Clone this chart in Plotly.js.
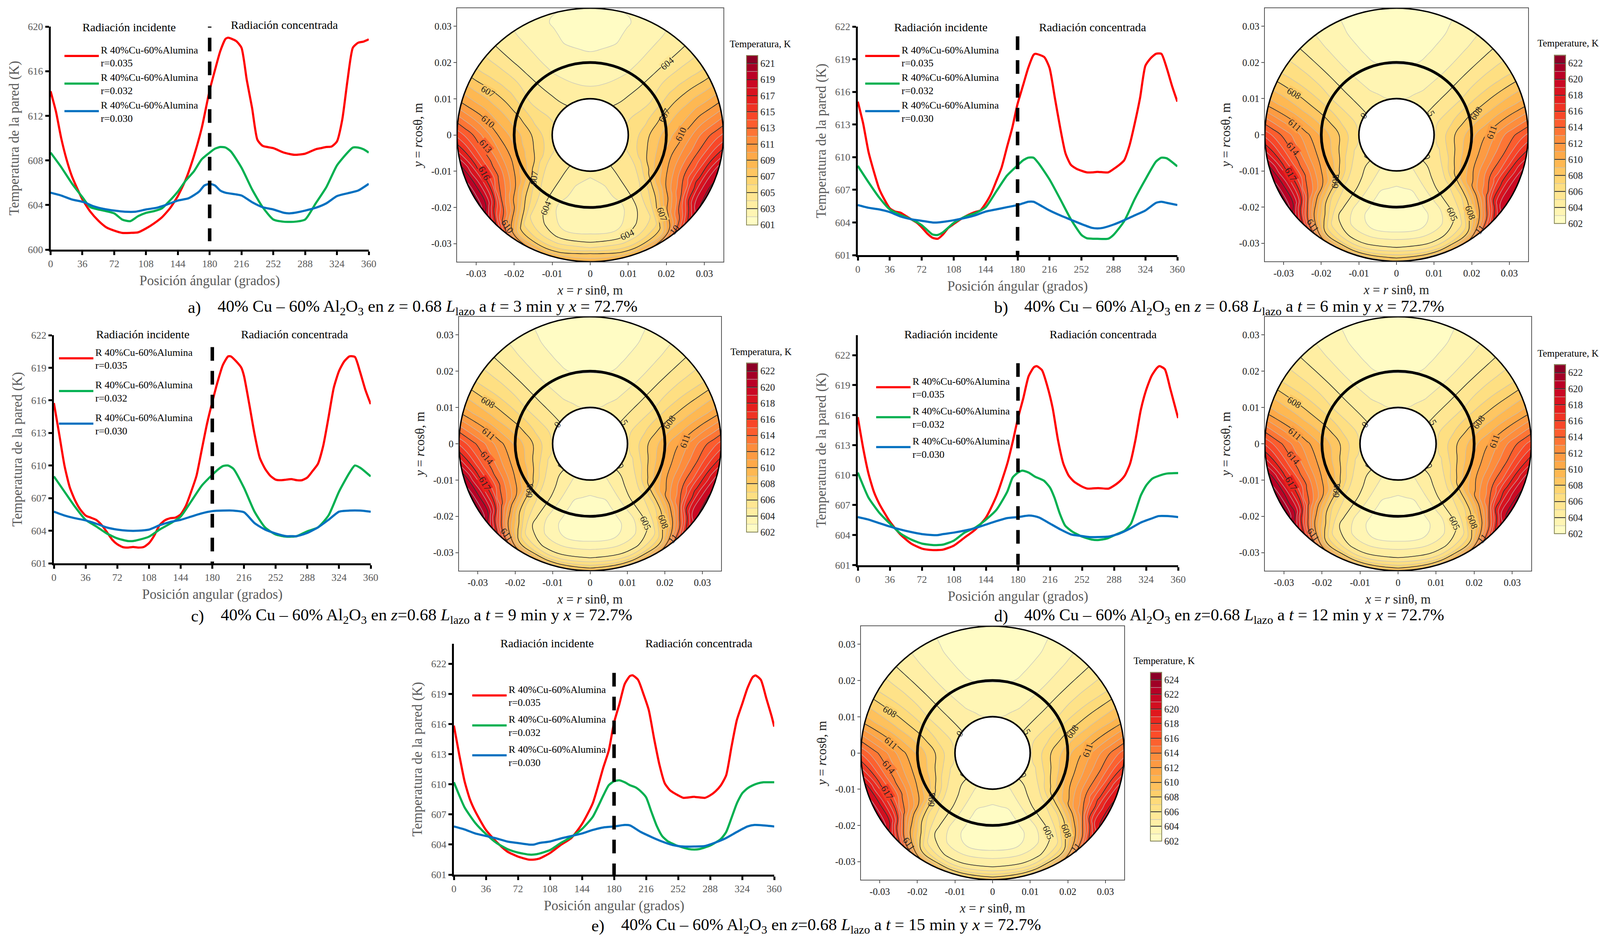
<!DOCTYPE html>
<html><head><meta charset="utf-8">
<script src="https://cdn.plot.ly/plotly-3.0.1.min.js"></script>
<style>html,body{margin:0;padding:0;background:#fff}</style></head>
<body><div id="chart" style="width:4102px;height:2414px"></div>
<script>
const xA_r=[0,6,12,18,24,30,36,45,54,63,72,81,90,99,108,117,126,135,144,153,162,171,180,186,192,198,201,210,216,222,228,234,240,252,264,276,288,300,306,312,318,324,330,336,342,348,354,360];
const yA_r=[614.2,612.4,610,608.1,606.6,605.5,604.5,603.4,602.6,602,601.7,601.5,601.5,601.55,601.9,602.35,602.9,603.7,604.8,606.3,608.35,610.9,614.3,616.1,617.8,618.9,619,618.7,618.1,615.2,612.7,609.85,609.3,609.1,608.7,608.5,608.6,609,609.1,609.2,609.25,609.7,611.65,615.2,618.1,618.55,618.65,618.85];
const xA_g=[0,12,24,36,45,54,72,81,90,99,108,117,126,135,144,153,162,171,180,186,192,198,204,216,228,240,252,264,276,288,300,312,324,336,342,348,354,360];
const yA_g=[608.7,607.4,605.95,604.7,603.8,603.6,603.25,602.7,602.55,603,603.3,603.45,603.7,604.4,605.2,606.2,607,608.1,608.7,609.05,609.2,609.15,608.8,607.35,605.4,603.8,602.7,602.5,602.5,602.7,604.15,605.6,607.55,608.7,609.15,609.15,609,608.7];
const xA_b=[0,12,24,38,48,60,72,84,96,108,120,132,144,156,168,174,180,186,192,198,216,228,240,252,264,270,276,288,300,312,324,336,348,360];
const yA_b=[605.1,604.85,604.5,604.25,603.9,603.65,603.5,603.4,603.4,603.6,603.75,604.05,604.4,604.6,605.2,605.75,605.9,605.75,605.3,605.1,604.85,604.25,603.8,603.6,603.3,603.25,603.3,603.5,603.75,604.15,604.8,605.05,605.3,605.9];
const xB_r=[0,6,12,18,24,30,36,42,48,54,60,66,72,78,84,90,96,102,108,114,120,126,132,138,144,150,156,162,168,174,180,186,192,198,200,210,216,222,228,234,240,246,252,258,264,270,282,288,294,300,306,312,318,324,330,336,342,348,354,360];
const yB_r=[615.1,613.1,610.5,608.7,607.1,606.1,605.3,605,604.9,604.6,604.3,604,603.55,603,602.6,602.5,602.9,603.5,603.85,604.2,604.5,604.75,604.95,605.1,605.75,606.6,607.8,609.05,610.9,612.7,614.9,616.55,618.2,619.4,619.5,619.2,618.2,615.45,612.7,610.35,609.3,608.95,608.75,608.6,608.6,608.65,608.6,608.9,609.25,609.7,611.05,613.1,615.45,618.4,619.1,619.5,619.5,618.2,616.55,615.1];
const xB_g=[0,12,24,36,48,60,72,84,90,96,108,120,132,144,156,168,180,186,192,198,204,216,228,240,252,258,270,282,288,300,312,324,336,342,348,360];
const yB_g=[609.2,607.7,606.3,605.2,604.7,604.3,603.75,602.9,602.85,603.1,603.95,604.5,604.85,605.4,606.85,608.3,609.25,609.7,609.95,609.95,609.4,607.95,606.15,604.3,602.85,602.55,602.5,602.5,602.85,604.1,606.15,607.95,609.6,609.95,609.9,609.15];
const xB_b=[0,12,24,36,48,60,72,84,90,96,108,120,132,144,156,168,180,186,192,198,204,216,228,240,252,264,270,276,288,300,312,324,336,342,348,360];
const yB_b=[605.6,605.35,605.2,604.95,604.55,604.3,604.15,604,604,604.05,604.2,604.4,604.65,605,605.2,605.4,605.6,605.75,605.9,605.9,605.65,605.1,604.65,604.25,603.85,603.5,603.45,603.5,603.8,604.2,604.65,605.1,605.8,605.9,605.8,605.6];
const xC_r=[0,6,12,18,24,30,36,42,48,54,60,66,72,78,84,90,96,102,108,114,120,126,132,138,144,150,156,162,168,174,180,186,192,198,201,207,213,216,222,228,234,240,246,252,258,264,270,276,282,288,294,300,306,312,318,324,330,336,342,348,354,360];
const yC_r=[615.75,612.9,610,608,606.8,605.95,605.4,605.2,605,604.55,603.9,603.2,602.75,602.5,602.45,602.5,602.45,602.5,602.85,603.55,604.5,604.95,605.15,605.2,605.5,606.3,607.6,609.05,611.45,613.85,615.85,617.7,619.25,620.05,620.05,619.6,619,618.25,615.65,612.9,610.7,609.7,609.05,608.7,608.65,608.7,608.75,608.65,608.65,608.9,609.5,610.15,611.8,614.4,617.15,618.7,619.6,620.05,620,618.6,616.95,615.65];
const xC_g=[0,12,24,36,48,60,72,84,90,96,108,120,132,144,156,168,180,186,192,198,204,216,228,240,252,264,270,276,288,300,312,324,336,342,348,360];
const yC_g=[609,607.6,606.2,605,604.4,603.75,603.3,603.05,603.05,603.15,603.45,604.1,604.65,605.3,606.7,608.15,609.15,609.6,609.95,610,609.7,607.95,605.75,604.3,603.65,603.45,603.45,603.5,603.95,604.3,605.4,607.6,609.35,610,609.8,609];
const xC_b=[0,12,24,36,48,60,72,84,96,108,120,132,144,156,168,180,192,204,216,228,240,252,264,270,276,288,300,312,324,336,348,360];
const yC_b=[605.75,605.4,605.15,604.95,604.65,604.3,604.1,604,604,604.1,604.5,604.8,605,605.3,605.6,605.8,605.85,605.85,605.7,604.7,604.1,603.75,603.5,603.5,603.5,603.8,604.3,605,605.75,605.85,605.85,605.75];
const xD_r=[0,6,12,18,24,36,48,60,72,84,90,96,108,120,132,144,156,168,174,180,186,192,198,201,207,213,219,225,231,237,243,252,258,270,282,288,294,300,306,312,318,324,330,336,339,345,351,357,360];
const yD_r=[615.8,612.7,610.15,608.35,607.15,605.35,604.05,603.15,602.65,602.5,602.5,602.55,602.95,603.75,604.55,605.75,607.95,611.15,613.3,615.7,617.7,619.9,620.8,620.9,620.5,618.9,616.7,613.5,611.15,609.95,609.35,608.85,608.65,608.7,608.65,608.95,609.35,609.95,611.15,613.5,616.5,618.5,619.9,620.7,620.9,620.6,618.7,616.7,615.7];
const xD_g=[0,6,12,24,36,48,60,72,84,90,96,108,120,132,144,156,168,174,180,185,192,199,209,216,221,227,233,241,252,263,270,280,290,300,307,312,318,324,331,339,347,360];
const yD_g=[610.25,608.95,607.75,606.25,605.15,604.15,603.55,603.15,603,603,603.05,603.45,604.25,604.75,605.55,606.55,608.35,609.75,610.25,610.45,610.25,609.85,609.45,608.75,607.75,606.15,604.95,604.35,603.85,603.55,603.5,603.65,604.05,604.45,605.15,606.35,607.95,608.95,609.65,609.95,610.15,610.2];
const xD_b=[0,12,24,36,48,60,72,84,90,96,108,120,132,144,156,168,180,192,198,204,216,228,240,252,260,270,282,294,306,318,330,338,348,360];
const yD_b=[605.8,605.55,605.2,604.85,604.55,604.3,604.1,604,604,604.1,604.25,604.45,604.7,605.05,605.4,605.7,605.8,605.95,605.9,605.75,605.15,604.55,604.05,603.9,603.8,603.8,603.85,604.15,604.65,605.25,605.65,605.9,605.9,605.8];
const xE_r=[0,6,12,18,24,36,48,60,72,84,90,96,108,120,132,144,156,168,174,180,186,192,198,201,207,213,219,225,231,237,243,252,258,270,282,288,294,300,306,312,318,324,330,336,339,345,351,357,360];
const yE_r=[615.85,612.95,610.3,608.5,607.3,605.45,604.25,603.3,602.8,602.5,602.5,602.6,603.15,603.95,604.65,606.05,608.1,611.7,613.35,616.15,618,620,620.8,620.85,620.4,619,617.4,614.55,611.95,610.1,609.4,608.9,608.65,608.75,608.65,608.9,609.3,609.9,610.9,613.75,616.4,618,619.6,620.7,620.85,620.4,618.6,616.8,615.75];
const xE_g=[0,6,12,24,36,48,60,72,84,90,96,108,120,132,144,156,168,174,180,186,192,198,204,210,216,222,228,234,240,252,264,270,276,288,300,306,312,318,324,330,336,342,348,360];
const yE_g=[610.2,608.9,607.7,606.15,605.05,604.15,603.55,603.2,603,603,603.1,603.45,604.15,604.75,605.55,606.75,608.9,609.9,610.3,610.4,610.2,609.9,609.7,609.3,608.7,607.25,605.85,604.85,604.35,603.85,603.55,603.5,603.55,603.9,604.55,605.25,606.65,608.1,609.1,609.6,609.9,610.1,610.2,610.2];
const xE_b=[0,12,24,36,48,60,72,84,90,96,108,120,132,144,156,168,180,192,198,210,222,234,246,258,270,282,294,306,318,330,338,348,360];
const yE_b=[605.8,605.5,605.1,604.85,604.6,604.3,604.15,604,604,604.15,604.3,604.6,604.85,605.1,605.45,605.7,605.8,605.95,605.9,605.25,604.75,604.3,603.95,603.8,603.8,603.85,604.2,604.65,605.25,605.8,605.95,605.9,605.8];

const radii=[0.010,0.012,0.015,0.018,0.021,0.024,0.027,0.029,0.031,0.033,0.035];
const angles=[-180,-165,-155,-145,-135,-125,-115,-105,-90,-75,-60,-45,-30,-15,0,15,30,45,60,75,90,105,115,125,135,145,155,165,180];
const rightAngles=[15,30,45,60,75,90,105,115,125,135,145,155,165,180];
const sideRows=[[603.55,602.95,602.7,602.55,602.45,602.55,602.9,603.6,604.85,607.3,608.6],
[603.5,603.25,602.95,602.75,602.65,602.7,602.95,603.65,604.9,606.5,608.9],
[603.75,603.65,603.5,603.35,603.05,603.15,603.8,604.4,605.3,606.85,609.4],
[604.1,604.1,604.15,604.2,604.35,604.6,604.9,605.4,606.4,607.9,611.3],
[604.25,604.35,604.6,605.03,605.85,607.03,609.03,610.7,612.03,613.3,616.03],
[604.45,604.7,605.2,606.7,608.3,610.03,611.9,613.2,616.3,618.6,620.2],
[604.9,605.3,606.5,607.8,609.3,611.1,613.2,615.03,617.03,618.9,620.4],
[605.35,605.8,606.85,608.1,609.6,611.03,612.9,614.1,615.7,617.6,619.3],
[605.4,605.75,606.85,607.9,608.9,609.9,611.3,612.2,613.1,613.9,614.7],
[605.1,605.5,605.8,606.7,607.4,608.03,608.6,609.03,609.3,609.6,609.95],
[604.6,604.7,604.8,604.95,605.4,605.9,606.1,606.15,606.2,606.2,606.25],
[604.2,604.15,604.1,604.05,604.03,604.02,604.01,603.98,603.96,603.95,603.95],
[603.85,603.6,603.35,603.1,602.95,602.8,602.7,602.65,602.6,602.55,602.55],
[603.55,603.3,602.95,602.65,602.35,602.1,601.95,601.9,601.85,601.8,602.02],
[603.35,603.15,602.85,602.55,602.2,601.9,601.7,601.6,601.55,601.5,602.02]];
const hotA=[[605.35,605.7,606.8,607.8,608.8,609.8,611.1,612.03,612.8,613.5,614.2],
[605.3,605.75,606.8,608.03,609.5,610.9,612.6,613.8,615.2,616.9,618.4],
[604.85,605.25,606.4,607.7,609.2,610.9,612.9,614.5,616.3,618.03,619.3],
[604.4,604.65,605.15,606.6,608.2,609.9,611.7,612.9,615.4,617.6,619.1],
[604.25,604.35,604.55,604.95,605.8,606.9,608.8,610.4,611.7,612.9,615.2]];
const rowsB=[[603.55,603.3,602.9,602.6,602.5,602.6,603.02,604.02,604.85,606.8,609.02],
[603.8,603.55,603.1,602.8,602.65,602.7,603.05,604.02,604.8,606.5,609.4],
[604.03,603.95,603.85,603.7,603.45,603.25,603.75,604.4,605.2,606.9,610.03],
[604.6,604.75,604.85,604.95,604.97,604.98,605.05,605.5,606.4,608.03,611.5],
[605.03,605.05,605.35,605.8,606.3,606.9,608.2,609.7,611.03,613.5,616.8],
[604.95,605.2,606.2,607.7,609.3,611.03,612.9,614.2,617.3,619.6,621.2],
[605.4,605.8,607.03,608.8,610.3,612.1,614.2,616.03,618.03,619.9,621.4],
[605.8,606.3,607.6,609.03,610.6,612.03,613.9,615.1,616.7,618.6,620.3],
[606.03,606.6,607.9,609.03,610.2,611.3,612.6,613.4,614.1,614.9,615.7],
[605.7,606.2,606.8,607.6,608.2,608.7,609.2,609.5,609.8,610.05,610.3],
[605.3,605.45,605.6,605.8,606.1,606.4,606.6,606.7,606.75,606.8,606.8],
[604.6,604.65,604.7,604.7,604.7,604.7,604.7,604.7,604.7,604.7,604.7],
[604.3,604.15,603.95,603.75,603.55,603.4,603.3,603.25,603.2,603.2,603.2],
[604.05,603.85,603.5,603.2,602.95,602.75,602.65,602.6,602.6,602.6,602.6],
[604.03,603.75,603.4,603.1,602.9,602.65,602.5,602.45,602.4,602.35,602.35]];
const hotB=[[605.9,606.5,607.8,608.9,610.03,611.1,612.3,613.1,613.8,614.5,615.2],
[605.7,606.2,607.5,608.9,610.4,611.7,613.4,614.4,615.9,617.6,619.03],
[605.3,605.7,606.9,608.6,610.1,611.8,613.7,615.3,617.1,618.8,620.03],
[604.9,605.15,606.1,607.6,609.1,610.7,612.5,613.7,616.5,618.6,619.9],
[605.03,605.05,605.3,605.75,606.2,606.8,608.03,609.5,610.8,613.03,616.03]];
const rowsC=[[603.55,603.3,602.9,602.6,602.5,602.6,603.02,603.95,604.6,606.4,608.9],
[603.8,603.55,603.1,602.8,602.65,602.7,603.05,603.95,604.65,606.3,609.3],
[604.03,603.95,603.85,603.7,603.45,603.25,603.75,604.35,605.1,606.8,610.03],
[604.6,604.75,604.85,604.95,604.97,604.98,605.05,605.5,606.4,608.03,611.6],
[605.03,605.05,605.35,605.8,606.3,606.9,608.2,609.7,611.03,613.6,617.03],
[604.95,605.2,606.2,607.7,609.3,611.03,612.9,614.3,617.4,619.8,621.4],
[605.4,605.8,607.03,608.8,610.3,612.1,614.3,616.1,618.1,620.03,621.6],
[605.8,606.3,607.6,609.03,610.6,612.03,613.9,615.2,616.8,618.7,620.5],
[606.03,606.6,607.9,609.03,610.2,611.3,612.6,613.4,614.2,615.03,615.9],
[605.7,606.2,606.8,607.6,608.2,608.7,609.2,609.5,609.8,610.1,610.4],
[605.3,605.45,605.6,605.8,606.1,606.4,606.6,606.7,606.75,606.8,606.85],
[604.6,604.65,604.7,604.7,604.7,604.7,604.7,604.7,604.7,604.7,604.7],
[604.3,604.15,603.95,603.75,603.55,603.4,603.3,603.25,603.2,603.2,603.2],
[604.05,603.85,603.5,603.2,602.95,602.75,602.65,602.6,602.6,602.6,602.6],
[604.05,603.75,603.4,603.1,602.9,602.65,602.5,602.45,602.4,602.35,602.35]];
const hotC=[[605.9,606.5,607.8,608.9,610.03,611.1,612.3,613.1,613.9,614.6,615.4],
[605.7,606.2,607.5,608.9,610.4,611.7,613.4,614.5,616.03,617.7,619.2],
[605.3,605.7,606.9,608.6,610.1,611.8,613.7,615.4,617.2,618.9,620.2],
[604.9,605.15,606.1,607.6,609.1,610.7,612.5,613.8,616.6,618.8,620.1],
[605.03,605.05,605.3,605.75,606.2,606.8,608.03,609.5,610.8,613.1,616.2]];
const rowsD=[[603.55,603.3,602.9,602.6,602.5,602.6,603.02,603.95,604.65,606.4,608.9],
[603.8,603.55,603.1,602.8,602.65,602.7,603.05,603.95,604.7,606.3,609.3],
[604.03,603.95,603.85,603.7,603.45,603.25,603.75,604.35,605.15,606.8,610.03],
[604.6,604.75,604.85,604.95,604.97,604.98,605.05,605.5,606.4,608.03,611.6],
[605.03,605.05,605.35,605.8,606.3,606.9,608.2,609.7,611.03,613.6,617.03],
[604.95,605.2,606.2,607.7,609.3,611.03,612.9,614.3,617.4,619.9,621.5],
[605.4,605.8,607.03,608.8,610.3,612.1,614.3,616.1,618.1,620.1,621.7],
[605.8,606.3,607.6,609.03,610.6,612.03,613.9,615.2,616.8,618.8,620.6],
[606.03,606.6,607.9,609.03,610.2,611.3,612.6,613.4,614.2,615.03,615.9],
[605.7,606.2,606.8,607.6,608.2,608.7,609.2,609.5,609.8,610.1,610.4],
[605.3,605.45,605.6,605.8,606.1,606.4,606.6,606.7,606.75,606.8,606.85],
[604.6,604.65,604.7,604.7,604.7,604.7,604.7,604.7,604.7,604.7,604.7],
[604.3,604.15,603.95,603.75,603.55,603.4,603.3,603.25,603.2,603.2,603.2],
[604.05,603.85,603.5,603.2,602.95,602.75,602.65,602.6,602.6,602.6,602.6],
[604.05,603.75,603.4,603.1,602.9,602.65,602.5,602.45,602.4,602.35,602.35]];
const hotD=[[605.9,606.5,607.8,608.9,610.03,611.1,612.3,613.1,613.9,614.7,615.5],
[605.7,606.2,607.5,608.9,610.4,611.7,613.4,614.5,616.1,617.8,619.4],
[605.3,605.7,606.9,608.6,610.1,611.8,613.7,615.4,617.3,619.03,620.4],
[604.9,605.15,606.1,607.6,609.1,610.7,612.5,613.8,616.7,618.9,620.3],
[605.03,605.05,605.3,605.75,606.2,606.8,608.03,609.5,610.8,613.2,616.3]];
const rowsE=[[603.55,603.3,602.9,602.6,602.5,602.6,603.02,603.95,604.6,606.4,608.9],
[603.8,603.55,603.1,602.8,602.65,602.7,603.05,603.95,604.65,606.3,609.3],
[604.03,603.95,603.85,603.7,603.45,603.25,603.75,604.35,605.1,606.8,610.03],
[604.6,604.75,604.85,604.95,604.97,604.98,605.05,605.5,606.4,608.03,611.6],
[605.03,605.05,605.35,605.8,606.3,606.9,608.2,609.7,611.03,613.6,617.03],
[604.95,605.2,606.2,607.7,609.3,611.03,612.9,614.3,617.3,619.7,621.2],
[605.4,605.8,607.03,608.8,610.3,612.1,614.3,616.1,618.03,619.9,621.4],
[605.8,606.3,607.6,609.03,610.6,612.03,613.9,615.2,616.8,618.7,620.4],
[606.03,606.6,607.9,609.03,610.2,611.3,612.6,613.4,614.2,615.03,615.9],
[605.7,606.2,606.8,607.6,608.2,608.7,609.2,609.5,609.8,610.1,610.4],
[605.3,605.45,605.6,605.8,606.1,606.4,606.6,606.7,606.75,606.8,606.85],
[604.6,604.65,604.7,604.7,604.7,604.7,604.7,604.7,604.7,604.7,604.7],
[604.3,604.15,603.95,603.75,603.55,603.4,603.3,603.25,603.2,603.2,603.2],
[604.05,603.85,603.5,603.2,602.95,602.75,602.65,602.6,602.6,602.6,602.6],
[604.05,603.75,603.4,603.1,602.9,602.65,602.5,602.45,602.4,602.35,602.35]];
const hotE=[[605.9,606.5,607.8,608.9,610.03,611.1,612.3,613.1,613.9,614.7,615.5],
[605.7,606.2,607.5,608.9,610.4,611.7,613.4,614.5,616.03,617.8,619.3],
[605.3,605.7,606.9,608.6,610.1,611.8,613.7,615.4,617.2,619.03,620.3],
[604.9,605.15,606.1,607.6,609.1,610.7,612.5,613.8,616.6,618.9,620.2],
[605.03,605.05,605.3,605.75,606.2,606.8,608.03,609.5,610.8,613.2,616.3]];
const labelsA=[['604',.0202,.0197,-40],['607',-.0269,.012,30],['610',-.0269,.0037,40],['613',-.0275,-.0031,50],['616',-.0278,-.0106,62],['607',-.0148,-.0119,-82,1],['604',-.0117,-.0202,-68],['610',-.0218,-.0252,55,1],['604',.0097,-.0276,-25],['607',.0189,-.0219,70],['610',.0238,.0002,-65],['607',.0195,.0054,-60,1],['10',.0222,-.0262,-50,1]];
const labelsB=[['608',-.0273,.0114,30],['611',-.0271,.0027,40],['614',-.0276,-.0039,50],['617',-.0281,-.011,60],['608',-.0162,-.0129,-85,1],['611',-.0223,-.0251,55,1],['605',.0148,-.0219,65],['608',.0196,-.0215,70],['11',.0222,-.0262,-50,1],['611',.0253,.0007,-70],['608',.0212,.0059,-55,1],['5',.0092,.0059,60,1],['0',-.0087,.0053,-55,1]];
const ringRadii=[0.035,0.020,0.010];
const ringWidths=[3.5,7,4];
const mapTicks=[-0.03,-0.02,-0.01,0,0.01,0.02,0.03];
const mapTickText=['-0.03','-0.02','-0.01','0','0.01','0.02','0.03'];
const ylorrdStops=[0,.125,.25,.375,.5,.625,.75,.875,1];
const ylorrdHex=['#ffffcc','#ffeda0','#fed976','#feb24c','#fd8d3c','#fc4e2a','#e31a1c','#bd0026','#800026'];
const ylorrd=ylorrdStops.map((s,i)=>[s,ylorrdHex[i]]);
const W=4102,H=2414,SERIF='"Liberation Serif",serif',GREY='#595959';
const px=v=>v/W, py=v=>1-v/H;
const NAME='R 40%Cu-60%Alumina<br>';
function assemble(rows,hot){ // rows run from the bottom of the tube up the left side; the right side repeats them except where it is cooler
 const order=rows.slice(0,14).reverse();
 const out=rows.slice();
 order.forEach((r,idx)=>{const h={90:0,105:1,115:2,125:3,135:4}[rightAngles[idx]];out.push(h===undefined?r:hot[h]);});
 return out;
}
function colorAt(t){t=Math.max(0,Math.min(1,t));let i=Math.min(7,Math.floor(t*8));const f=t*8-i;const c=h=>[1,3,5].map(k=>parseInt(h.substr(k,2),16));const a=c(ylorrdHex[i]),b=c(ylorrdHex[i+1]);return 'rgb('+a.map((v,k)=>Math.round(v+(b[k]-v)*f)).join(',')+')';}
const panels=[
 {k:'a',xr:[129.5,944],yb:639,yt:68,yr:[600,620],t0:600,dt:4,xT:'Posición ángular (grados)',leg:[160,103,0],inc:[330,69],con:[728,64],dash:[619,600.75],tip:[620,619.9],s:[xA_r,yA_r,xA_g,yA_g,xA_b,yA_b],
  m:{f:[1170,1852,21,670],cb:[1911,142,575.5],ct:'Temperatura, K',ctp:[1946,113],z:assemble(sideRows,hotA),lo:601,hi:622,lab:604,labels:labelsA},cap:[479,555,787],letter:'a)',eq:' = ',tv:3},
 {k:'b',xr:[2196,3014],yb:653,yt:68,yr:[601,622],t0:601,dt:3,xT:'Posición ángular (grados)',leg:[2210,103,0],inc:[2408,69],con:[2797,69],dash:[621.1,601],s:[xB_r,yB_r,xB_g,yB_g,xB_b,yB_b],
  m:{f:[3238,3912,21,669],cb:[3979,141,572],ct:'Temperature, K',ctp:[4014,111],z:assemble(rowsB,hotB),lo:602,hi:623,lab:605,labels:labelsB},cap:[2543,2620,787],letter:'b)',eq:' = ',tv:6},
 {k:'c',xr:[138,949],yb:1442,yt:858,yr:[601,622],t0:601,dt:3,xT:'Posición angular (grados)',leg:[146,877,13],inc:[365,855],con:[754,855],dash:[620.9,601],s:[xC_r,yC_r,xC_g,yC_g,xC_b,yC_b],
  m:{f:[1175,1846,811,1461],cb:[1911,929,1362],ct:'Temperatura, K',ctp:[1948,900],z:assemble(rowsC,hotC),lo:602,hi:623,lab:605,labels:labelsB},cap:[487,563,1577],letter:'c)',eq:'=',tv:9},
 {k:'d',xr:[2196,3016],yb:1446.5,yt:858,yr:[601,624],t0:601,dt:3,xT:'Posición angular (grados)',leg:[2238,951,6],inc:[2434.6,855],con:[2824,855],dash:[621.2,601],s:[xD_r,yD_r,xD_g,yD_g,xD_b,yD_b],
  m:{f:[3238,3920,811,1461],cb:[3979,933,1366],ct:'Temperature, K',ctp:[4014,904],z:assemble(rowsD,hotD),lo:602,hi:623,lab:605,labels:labelsB},cap:[2543,2620,1577],letter:'d)',eq:'=',tv:12},
 {k:'e',xr:[1162,1982],yb:2239,yt:1648,yr:[601,624],t0:601,dt:3,xT:'Posición angular (grados)',leg:[1204,1740,6],inc:[1400.6,1646],con:[1789,1646],dash:[621.1,601],s:[xE_r,yE_r,xE_g,yE_g,xE_b,yE_b],
  m:{f:[2204,2878,1603,2252],cb:[2945,1721,2153],ct:'Temperature, K',ctp:[2980,1691],z:assemble(rowsE,hotE),lo:602,hi:625,lab:605,labels:labelsB},cap:[1512,1588,2370],letter:'e)',eq:'=',tv:15}
];
const seriesColors=['#FF0000','#00B050','#0070C0'];
const seriesR=['r=0.035','r=0.032','r=0.030'];
const traces=[],shapes=[],annotations=[],layout={width:W,height:H,margin:{l:0,r:0,t:0,b:0},paper_bgcolor:'#fff',plot_bgcolor:'rgba(0,0,0,0)',hovermode:false,font:{family:SERIF},showlegend:true};
function ann(text,x,y,size,xanchor,color){annotations.push({text,x:px(x),y:py(y),xref:'paper',yref:'paper',showarrow:false,xanchor:xanchor||'center',yanchor:'middle',font:{family:SERIF,size,color:color||'#000'}});}
panels.forEach((p,i)=>{
 const n=i+1,xa='x'+n,ya='y'+n,lg=n===1?'legend':'legend'+n;
 layout['xaxis'+n]={domain:[px(p.xr[0]),px(p.xr[1])],range:[0,360],tick0:0,dtick:36,anchor:ya,showgrid:false,zeroline:false,showline:true,linecolor:'#000',linewidth:5,ticks:'outside',ticklen:9,tickwidth:5,tickcolor:'#000',tickfont:{family:SERIF,size:26,color:GREY},title:{text:p.xT,font:{family:SERIF,size:35,color:GREY},standoff:18},automargin:false};
 layout['yaxis'+n]={domain:[py(p.yb),py(p.yt)],range:p.yr,tick0:p.t0,dtick:p.dt,anchor:xa,showgrid:false,zeroline:false,showline:true,linecolor:'#000',linewidth:5,ticks:'outside',ticklen:9,tickwidth:5,tickcolor:'#000',tickfont:{family:SERIF,size:26,color:GREY},title:{text:'Temperatura de la pared (K)',font:{family:SERIF,size:35,color:GREY},standoff:14},automargin:false};
 layout['xaxis'+(n+10)]={domain:layout['xaxis'+n].domain,range:[0,360],tick0:0,dtick:36,anchor:ya,overlaying:xa,side:'bottom',showgrid:false,zeroline:false,showline:false,ticks:'inside',ticklen:8,tickwidth:5,tickcolor:'#000',showticklabels:false};
 layout['yaxis'+(n+10)]={domain:layout['yaxis'+n].domain,range:p.yr,tick0:p.t0,dtick:p.dt,anchor:xa,overlaying:ya,side:'left',showgrid:false,zeroline:false,showline:false,ticks:'inside',ticklen:8,tickwidth:5,tickcolor:'#000',showticklabels:false};
 for(let s=0;s<3;s++){traces.push({type:'scatter',mode:'lines',x:p.s[s*2],y:p.s[s*2+1],name:NAME+seriesR[s],xaxis:xa,yaxis:ya,legend:lg,legendgroup:p.k+s,line:{color:seriesColors[s],width:5.5,shape:'spline',smoothing:0.6}});}
 layout[lg]={x:px(p.leg[0]),y:py(p.leg[1]),xanchor:'left',yanchor:'top',bgcolor:'rgba(0,0,0,0)',font:{family:SERIF,size:26,color:'#000'},itemwidth:88,itemclick:false,itemdoubleclick:false,tracegroupgap:p.leg[2],traceorder:p.leg[2]?'grouped':'normal'};
 shapes.push({type:'line',xref:xa,yref:ya,x0:180,x1:180,y0:p.dash[0],y1:p.dash[1],line:{color:'#000',width:9,dash:'35px,26px'},layer:'above'});
 if(p.tip)shapes.push({type:'line',xref:xa,yref:ya,x0:180,x1:180,y0:p.tip[0],y1:p.tip[1],line:{color:'#000',width:9},layer:'above'});
 ann('Radiación incidente',p.inc[0],p.inc[1],30);
 ann('Radiación concentrada',p.con[0],p.con[1],30);
 const m=p.m,n2=n+5,xb='x'+n2,yb='y'+n2,cid='carpet'+n;
 layout['xaxis'+n2]={domain:[px(m.f[0]),px(m.f[1])],range:[-0.035,0.035],anchor:yb,tickvals:mapTicks,ticktext:mapTickText,showgrid:false,zeroline:false,showline:true,mirror:true,linecolor:'#555',linewidth:2,ticks:'outside',ticklen:7,tickwidth:2,tickcolor:'#555',tickfont:{family:SERIF,size:25,color:'#222'},title:{text:'<i>x</i> = <i>r</i> sinθ, m',font:{family:SERIF,size:33,color:'#222'},standoff:18},automargin:false};
 layout['yaxis'+n2]={domain:[py(m.f[3]),py(m.f[2])],range:[-0.035,0.035],anchor:xb,tickvals:mapTicks,ticktext:mapTickText,showgrid:false,zeroline:false,showline:true,mirror:true,linecolor:'#555',linewidth:2,ticks:'outside',ticklen:7,tickwidth:2,tickcolor:'#555',tickfont:{family:SERIF,size:25,color:'#222'},title:{text:'<i>y</i> = <i>r</i>cosθ, m',font:{family:SERIF,size:33,color:'#222'},standoff:12},automargin:false};
 const gx=angles.map(t=>radii.map(r=>r*Math.sin(t*Math.PI/180)));
 const gy=angles.map(t=>radii.map(r=>r*Math.cos(t*Math.PI/180)));
 const hiddenAxis={showticklabels:'none',showgrid:false,showline:false,startline:false,endline:false,minorgridcount:0,smoothing:1};
 traces.push({type:'carpet',carpet:cid,a:radii,b:angles,x:gx,y:gy,xaxis:xb,yaxis:yb,aaxis:hiddenAxis,baxis:hiddenAxis,showlegend:false});
 traces.push({type:'contourcarpet',carpet:cid,a:radii,b:angles,z:m.z,autocontour:false,xaxis:xb,yaxis:yb,showlegend:false,
  contours:{start:m.lo,end:m.hi,size:1,coloring:'fill',showlines:true},line:{color:'rgba(190,190,190,0.75)',width:1.6,smoothing:1.2},
  colorscale:ylorrd,zmin:m.lo,zmax:m.hi,showscale:true,
  colorbar:{x:px(m.cb[0]),xanchor:'left',y:py(m.cb[2]),yanchor:'bottom',lenmode:'pixels',len:m.cb[2]-m.cb[1],thicknessmode:'pixels',thickness:29,xpad:0,ypad:0,tick0:m.lo,dtick:2,ticks:'inside',ticklen:29,tickwidth:1.5,tickcolor:'#333',tickfont:{family:SERIF,size:25,color:'#222'},outlinecolor:'#8a8a5c',outlinewidth:2}});
 traces.push({type:'contourcarpet',carpet:cid,a:radii,b:angles,z:m.z,autocontour:false,xaxis:xb,yaxis:yb,showlegend:false,showscale:false,
  contours:{start:m.lab,end:m.lab+15,size:3,coloring:'none',showlines:true},line:{color:'#222',width:1.6,smoothing:1.2}});
 ringRadii.forEach((r,j)=>shapes.push({type:'circle',xref:xb,yref:yb,x0:-r,x1:r,y0:-r,y1:r,line:{color:'#000',width:ringWidths[j]},layer:'above'}));
 m.labels.forEach(l=>{const band=colorAt((parseInt(l[0])-m.lo+0.3)/(m.hi-m.lo));annotations.push({text:l[0],x:l[1],y:l[2],xref:xb,yref:yb,showarrow:false,textangle:l[3],xanchor:'center',yanchor:'middle',borderpad:0,bgcolor:l[4]?'rgba(0,0,0,0)':band,font:{family:SERIF,size:24,color:'#222'}});});
 ann(m.ct,m.ctp[0],m.ctp[1],25);
 ann(p.letter,p.cap[0],p.cap[2],43,'left');
 ann(`40% Cu – 60% Al<sub>2</sub>O<sub>3</sub> en <i>z</i>${p.eq}0.68 <i>L</i><sub>lazo</sub> a <i>t</i> = ${p.tv} min y <i>x</i> = 72.7%`,p.cap[1],p.cap[2],43,'left');
});
layout.shapes=shapes;layout.annotations=annotations;
Plotly.newPlot('chart',traces,layout,{displayModeBar:false,responsive:false}).then(()=>{
 document.querySelectorAll('#chart text').forEach(t=>{if(!t.textContent.trim())t.remove();});
});
</script></body></html>
